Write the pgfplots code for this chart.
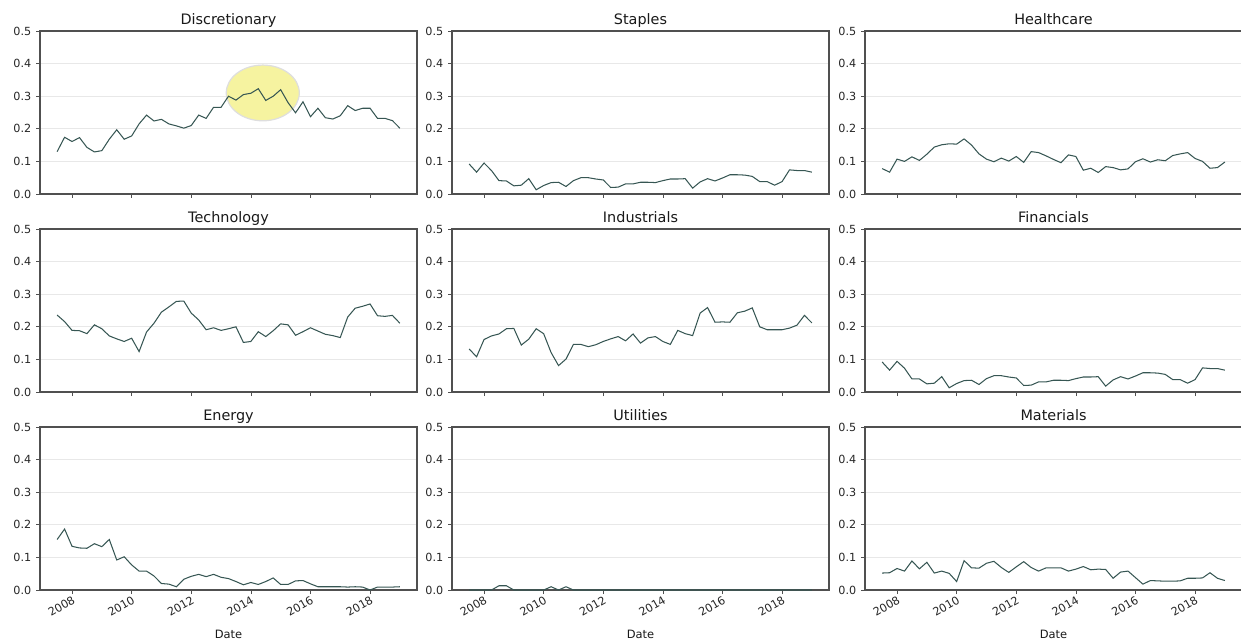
\documentclass[border=0pt]{standalone}
\usepackage{pgfplots}
\pgfplotsset{compat=1.18}
\usepackage{pgfplotstable}
\usepackage{fontspec}
\setmainfont{DejaVu Sans}
\definecolor{ln}{RGB}{54,86,83}
\definecolor{hl}{RGB}{246,243,160}
\definecolor{spine}{RGB}{80,80,80}

\pgfplotstableread{
t       disc  stap  hc    tech  ind   fin   en    util  mat
2007.50 0.130 0.092 0.078 0.236 0.132 0.092 0.155 0.000 0.052
2007.75 0.174 0.067 0.067 0.216 0.108 0.067 0.187 0.000 0.053
2008.00 0.161 0.095 0.107 0.189 0.161 0.094 0.134 0.000 0.066
2008.25 0.173 0.072 0.100 0.188 0.172 0.073 0.129 0.000 0.058
2008.50 0.143 0.041 0.114 0.179 0.178 0.040 0.128 0.013 0.089
2008.75 0.129 0.040 0.103 0.206 0.194 0.040 0.142 0.013 0.065
2009.00 0.133 0.025 0.122 0.194 0.195 0.025 0.133 0.000 0.085
2009.25 0.168 0.027 0.144 0.172 0.144 0.027 0.155 0.000 0.052
2009.50 0.197 0.047 0.151 0.163 0.162 0.047 0.092 0.000 0.058
2009.75 0.168 0.013 0.154 0.155 0.194 0.013 0.102 0.000 0.051
2010.00 0.178 0.026 0.153 0.165 0.179 0.026 0.077 0.000 0.026
2010.25 0.215 0.035 0.169 0.124 0.121 0.035 0.058 0.010 0.090
2010.50 0.242 0.036 0.150 0.184 0.081 0.036 0.058 0.000 0.068
2010.75 0.224 0.023 0.123 0.211 0.101 0.023 0.043 0.010 0.067
2011.00 0.229 0.041 0.107 0.245 0.146 0.041 0.020 0.000 0.082
2011.25 0.215 0.050 0.099 0.261 0.146 0.050 0.018 0.000 0.088
2011.50 0.209 0.050 0.110 0.278 0.139 0.050 0.010 0.000 0.069
2011.75 0.202 0.046 0.101 0.279 0.145 0.046 0.033 0.000 0.054
2012.00 0.210 0.043 0.115 0.242 0.155 0.043 0.042 0.000 0.071
2012.25 0.242 0.020 0.097 0.221 0.163 0.020 0.048 0.000 0.087
2012.50 0.232 0.021 0.130 0.191 0.170 0.021 0.041 0.000 0.069
2012.75 0.266 0.031 0.127 0.197 0.157 0.031 0.048 0.000 0.058
2013.00 0.266 0.031 0.117 0.189 0.178 0.031 0.039 0.000 0.068
2013.25 0.300 0.036 0.106 0.194 0.150 0.036 0.035 0.000 0.068
2013.50 0.288 0.036 0.096 0.200 0.166 0.036 0.026 0.000 0.068
2013.75 0.305 0.035 0.120 0.152 0.170 0.035 0.016 0.000 0.058
2014.00 0.309 0.041 0.115 0.155 0.155 0.041 0.023 0.000 0.064
2014.25 0.323 0.046 0.073 0.185 0.146 0.046 0.017 0.000 0.072
2014.50 0.287 0.046 0.079 0.170 0.189 0.046 0.026 0.000 0.062
2014.75 0.300 0.047 0.066 0.188 0.179 0.047 0.037 0.000 0.064
2015.00 0.320 0.018 0.084 0.209 0.173 0.018 0.017 0.000 0.063
2015.25 0.280 0.037 0.081 0.206 0.242 0.037 0.017 0.000 0.036
2015.50 0.249 0.047 0.074 0.174 0.259 0.047 0.028 0.000 0.055
2015.75 0.283 0.040 0.077 0.185 0.214 0.040 0.029 0.000 0.058
2016.00 0.237 0.049 0.099 0.197 0.215 0.049 0.019 0.000 0.038
2016.25 0.263 0.059 0.108 0.187 0.214 0.059 0.010 0.000 0.018
2016.50 0.234 0.059 0.098 0.177 0.243 0.059 0.010 0.000 0.029
2016.75 0.230 0.058 0.105 0.173 0.248 0.058 0.010 0.000 0.028
2017.00 0.240 0.054 0.102 0.167 0.258 0.054 0.010 0.000 0.027
2017.25 0.271 0.038 0.118 0.230 0.200 0.038 0.009 0.000 0.027
2017.50 0.256 0.038 0.123 0.257 0.191 0.038 0.010 0.000 0.028
2017.75 0.263 0.027 0.127 0.263 0.191 0.027 0.009 0.000 0.036
2018.00 0.263 0.038 0.109 0.270 0.191 0.038 0.000 0.000 0.036
2018.25 0.232 0.074 0.100 0.234 0.196 0.074 0.009 0.000 0.037
2018.50 0.232 0.072 0.079 0.232 0.205 0.072 0.009 0.000 0.053
2018.75 0.225 0.072 0.081 0.235 0.235 0.072 0.009 0.000 0.036
2019.00 0.202 0.067 0.098 0.211 0.212 0.067 0.010 0.000 0.029
}\data

\pgfplotsset{
  layers/mylayers/.define layer set={axis background,axis grid,pre main,main,axis ticks,axis lines,axis tick labels,axis descriptions,axis foreground}{},
  panel/.style={
    set layers=mylayers,
    scale only axis,
    width=282.75pt, height=122.25pt,
    anchor=south west,
    xmin=2006.925, xmax=2019.575,
    ymin=0, ymax=0.5,
    ytick={0,0.1,0.2,0.3,0.4,0.5},
    xtick={2008,2010,2012,2014,2016,2018},
    xticklabels={2008,2010,2012,2014,2016,2018},
    /pgf/number format/assume math mode=true,
    yticklabel style={/pgf/number format/fixed,/pgf/number format/fixed zerofill,/pgf/number format/precision=1},
    ticklabel style={font=\fontsize{8.4}{10}\selectfont, text=black!85},
    tick pos=left,
    tick align=outside,
    major tick length=3pt,
    tick style={spine, line width=0.5pt},
    axis line style={spine, line width=0.78pt},
    ymajorgrids,
    grid style={black!9, line width=0.7pt},
    title style={font=\fontsize{10.8}{12}\selectfont, text=black!90, at={(0.5,1)}, anchor=base, yshift=-1.4pt},
    label style={font=\fontsize{8.6}{10}\selectfont, text=black!90},
  },
  top/.style={xticklabels={}},
  bot/.style={xlabel={Date}, xlabel style={yshift=-5.5pt}, xticklabel style={rotate=30, anchor=north east, inner sep=0.5pt}},
  ser/.style={ln, line width=0.78pt},
}

\begin{document}
\begin{tikzpicture}

% Row 1
\begin{axis}[panel, top, at={(30pt,336.75pt)}, title={Discretionary}]
\fill[hl, draw=black!13, line width=0.9pt] (axis cs:2014.40,0.310) ellipse [x radius=27.4pt, y radius=20.9pt];
\addplot[ser] table[x=t, y=disc] {\data};
\end{axis}
\begin{axis}[panel, top, at={(339pt,336.75pt)}, title={Staples}]
\addplot[ser] table[x=t, y=stap] {\data};
\end{axis}
\begin{axis}[panel, top, at={(648.75pt,336.75pt)}, title={Healthcare}]
\addplot[ser] table[x=t, y=hc] {\data};
\end{axis}

% Row 2
\begin{axis}[panel, top, at={(30pt,188.25pt)}, title={Technology}]
\addplot[ser] table[x=t, y=tech] {\data};
\end{axis}
\begin{axis}[panel, top, at={(339pt,188.25pt)}, title={Industrials}]
\addplot[ser] table[x=t, y=ind] {\data};
\end{axis}
\begin{axis}[panel, top, at={(648.75pt,188.25pt)}, title={Financials}]
\addplot[ser] table[x=t, y=fin] {\data};
\end{axis}

% Row 3
\begin{axis}[panel, bot, at={(30pt,39.75pt)}, title={Energy}]
\addplot[ser] table[x=t, y=en] {\data};
\end{axis}
\begin{axis}[panel, bot, at={(339pt,39.75pt)}, title={Utilities}]
\addplot[ser] table[x=t, y=util] {\data};
\end{axis}
\begin{axis}[panel, bot, at={(648.75pt,39.75pt)}, title={Materials}]
\addplot[ser] table[x=t, y=mat] {\data};
\end{axis}

\pgfresetboundingbox
\path (0,0) rectangle (930.75pt,482.25pt);
\end{tikzpicture}
\end{document}
